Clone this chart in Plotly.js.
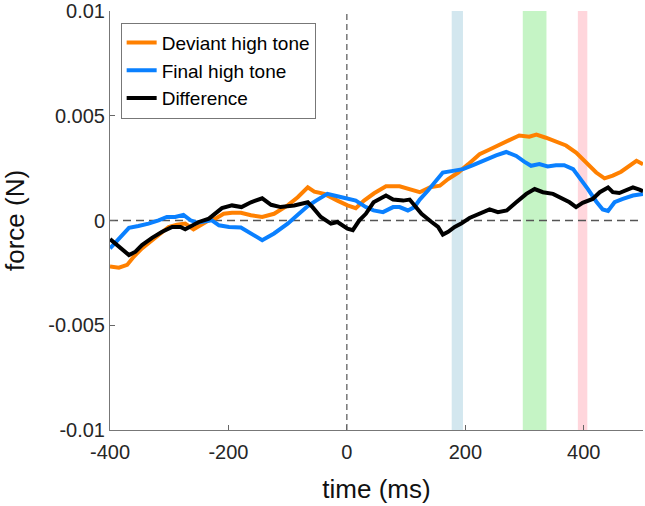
<!DOCTYPE html>
<html>
<head>
<meta charset="utf-8">
<script src="https://cdn.plot.ly/plotly-3.0.1.min.js"></script>
<style>
  html, body { margin: 0; padding: 0; background: #fff; }
  #chart { width: 645px; height: 506px; }
</style>
</head>
<body>
<div id="chart"></div>
<script>
// Time (ms) and force (N, in thousandths) for each trace
const deviantT = [-400, -385, -371, -360, -346, -329, -312, -301, -287, -273, -259, -247, -233, -222, -208, -194, -179, -162, -143, -123, -100, -83, -66, -55, -38, -16, 1, 15, 29, 46, 66, 89, 106, 123, 140, 157, 171, 188, 205, 224, 241, 258, 269, 291, 308, 320, 336, 353, 370, 387, 404, 421, 435, 449, 463, 477, 489, 500];
const deviantF = [-2.2, -2.25, -2.12, -1.73, -1.33, -0.94, -0.54, -0.31, -0.2, -0.15, -0.42, -0.2, 0.01, 0.09, 0.32, 0.37, 0.37, 0.25, 0.17, 0.32, 0.72, 1.11, 1.58, 1.38, 1.27, 0.95, 0.72, 0.59, 0.95, 1.3, 1.63, 1.63, 1.5, 1.35, 1.58, 1.66, 1.98, 2.29, 2.69, 3.16, 3.39, 3.63, 3.76, 4.06, 4.0, 4.1, 3.95, 3.79, 3.58, 3.24, 2.77, 2.29, 2.01, 2.14, 2.33, 2.61, 2.85, 2.69];

const finalT = [-400, -385, -368, -352, -335, -318, -304, -290, -276, -264, -253, -239, -228, -216, -199, -179, -162, -143, -123, -100, -81, -66, -52, -33, -16, 1, 15, 32, 45, 61, 78, 89, 103, 114, 123, 137, 151, 162, 179, 196, 213, 235, 252, 269, 286, 300, 311, 325, 339, 353, 367, 382, 393, 407, 421, 432, 441, 452, 466, 483, 500];
const finalF = [-1.33, -0.86, -0.35, -0.26, -0.15, 0.01, 0.17, 0.17, 0.27, 0.01, -0.1, -0.04, 0.01, -0.23, -0.31, -0.33, -0.62, -0.94, -0.62, -0.15, 0.32, 0.69, 0.95, 1.27, 1.16, 1.06, 0.95, 0.64, 0.48, 0.4, 0.64, 0.64, 0.48, 0.64, 1.0, 1.43, 1.9, 2.29, 2.37, 2.45, 2.64, 2.92, 3.11, 3.27, 3.08, 2.8, 2.61, 2.69, 2.58, 2.64, 2.64, 2.45, 2.06, 1.5, 0.91, 0.53, 0.46, 0.87, 1.03, 1.19, 1.27];

const diffT = [-400, -385, -368, -357, -346, -329, -312, -295, -281, -273, -262, -250, -233, -222, -211, -194, -178, -162, -143, -128, -112, -89, -66, -58, -44, -27, -16, 1, 10, 21, 32, 45, 66, 78, 95, 106, 114, 126, 143, 154, 162, 171, 182, 193, 207, 224, 241, 255, 270, 286, 303, 317, 331, 348, 365, 376, 387, 398, 415, 427, 441, 449, 460, 472, 483, 494, 500];
const diffF = [-0.89, -1.25, -1.65, -1.49, -1.17, -0.83, -0.54, -0.31, -0.31, -0.42, -0.23, -0.07, 0.09, 0.32, 0.59, 0.72, 0.64, 0.87, 1.06, 0.75, 0.64, 0.72, 0.87, 0.64, 0.17, -0.15, -0.07, -0.39, -0.46, 0.01, 0.32, 0.87, 1.19, 1.0, 0.95, 1.0, 0.72, 0.32, -0.07, -0.31, -0.67, -0.54, -0.31, -0.15, 0.12, 0.32, 0.53, 0.4, 0.48, 0.87, 1.27, 1.5, 1.35, 1.27, 1.03, 0.87, 0.64, 0.84, 1.03, 1.35, 1.58, 1.35, 1.31, 1.43, 1.58, 1.47, 1.4];

// Highlighted time windows (ms)
const bandStart = [177, 297, 390];
const bandEnd = [196, 337, 406];
const bandColors = ['#d3e7ef', '#c5f4c5', '#ffd6dc'];

// Axis ticks
const xTicks = [-400, -200, 0, 200, 400];
const xTickText = ['-400', '-200', '0', '200', '400'];
const yTicks = [-0.01, -0.005, 0, 0.005, 0.01];
const yTickText = ['-0.01', '-0.005', '0', '0.005', '0.01'];

const toNewton = arr => arr.map(v => v / 1000);

const traces = [
  { x: deviantT, y: toNewton(deviantF), name: 'Deviant high tone', mode: 'lines',
    line: { color: '#ff8000', width: 4 } },
  { x: finalT, y: toNewton(finalF), name: 'Final high tone', mode: 'lines',
    line: { color: '#0a80ff', width: 4 } },
  { x: diffT, y: toNewton(diffF), name: 'Difference', mode: 'lines',
    line: { color: '#000000', width: 4 } }
];

const shapes = bandStart.map((s, i) => ({
  type: 'rect', xref: 'x', yref: 'paper', x0: s, x1: bandEnd[i], y0: 0, y1: 1,
  fillcolor: bandColors[i], line: { width: 0 }, layer: 'below'
}));
shapes.push(
  { type: 'line', xref: 'x', yref: 'paper', x0: 0, x1: 0, y0: 0, y1: 1,
    line: { color: '#333', width: 1, dash: '6px,4px' }, layer: 'below' },
  { type: 'line', xref: 'paper', yref: 'y', x0: 0, x1: 1, y0: 0, y1: 0,
    line: { color: '#555', width: 1.3, dash: '8px,5px' }, layer: 'below' }
);

const fontFamily = 'Liberation Sans, Arial, sans-serif';
const axisFont = { family: fontFamily, size: 20, color: '#262626' };
const titleFont = { family: fontFamily, size: 26, color: '#111' };

const layout = {
  width: 645, height: 506,
  margin: { l: 110, r: 2, t: 11, b: 76, pad: 0 },
  paper_bgcolor: '#fff', plot_bgcolor: '#fff',
  showlegend: true,
  legend: {
    x: 0.02, y: 0.972, xanchor: 'left', yanchor: 'top',
    bgcolor: '#fff', bordercolor: '#777', borderwidth: 1,
    font: { family: fontFamily, size: 19, color: '#000' },
    itemwidth: 30, tracegroupgap: 0
  },
  xaxis: {
    range: [-400, 500], tickvals: xTicks, ticktext: xTickText,
    ticks: 'inside', ticklen: 5, tickcolor: '#666', tickwidth: 1,
    showline: true, linecolor: '#777', linewidth: 1, showgrid: false, zeroline: false,
    automargin: false, ticklabeloverflow: 'allow', ticklabelstandoff: 4, tickfont: axisFont,
    title: { text: 'time (ms)', font: titleFont, standoff: 17 }
  },
  yaxis: {
    range: [-0.01, 0.01], tickvals: yTicks, ticktext: yTickText,
    ticks: 'inside', ticklen: 5, tickcolor: '#666', tickwidth: 1,
    showline: true, linecolor: '#777', linewidth: 1, showgrid: false, zeroline: false,
    automargin: false, ticklabeloverflow: 'allow', tickfont: axisFont,
    title: { text: 'force (N)', font: titleFont, standoff: 25 }
  },
  shapes: shapes
};

Plotly.newPlot('chart', traces, layout, { displayModeBar: false, staticPlot: true });
</script>
</body>
</html>
